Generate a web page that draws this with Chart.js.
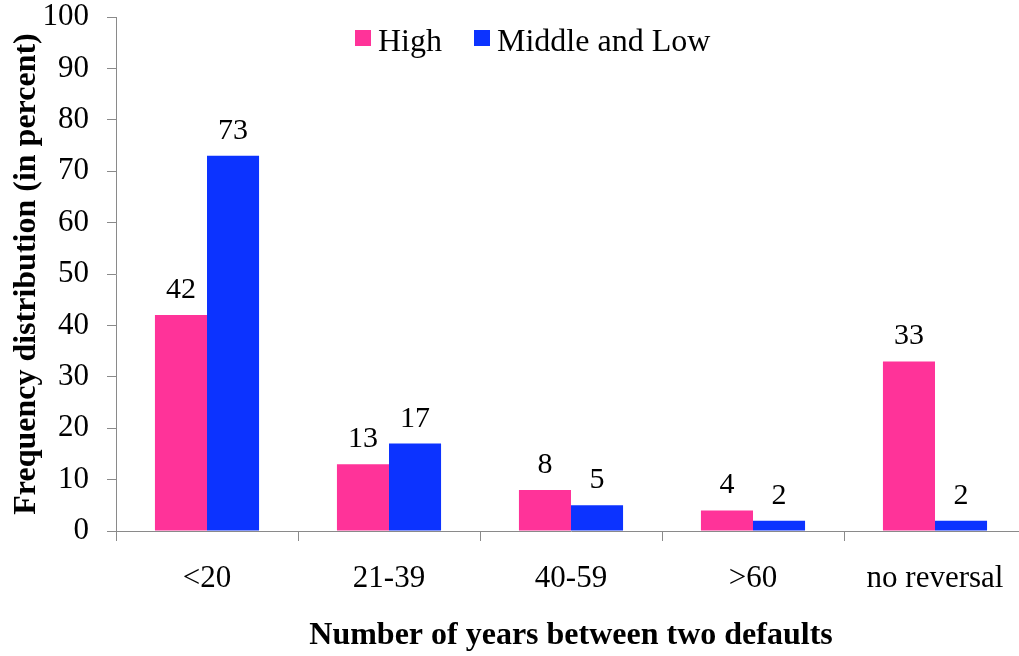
<!DOCTYPE html>
<html>
<head>
<meta charset="utf-8">
<script src="https://cdn.jsdelivr.net/npm/chart.js@4"></script>
<style>
  html, body { margin: 0; padding: 0; background: #fff; overflow: hidden; }
  #wrap { width: 1019px; height: 656px; overflow: hidden; position: relative; }
  canvas { display: block; }
</style>
</head>
<body>
<div id="wrap"><canvas id="c" width="1026" height="656" style="width:1026px;height:656px"></canvas></div>
<script>
// Categories and values
const categories = ['<20', '21-39', '40-59', '>60', 'no reversal'];
const seriesNames = ['High', 'Middle and Low'];
const highValues = [42, 13, 8, 4, 33];
const middleLowValues = [73, 17, 5, 2, 2];
const yMin = 0;
const yMax = 100;
const yStep = 10;
const xTitle = 'Number of years between two defaults';
const yTitle = 'Frequency distribution (in percent)';

const SERIF = "'Liberation Serif', 'Times New Roman', Times, serif";
const AXIS_GREY = '#8a8a8a';
const COLORS = ['#ff3399', '#0c33ff'];

// Value labels drawn above each bar
const valueLabels = {
  id: 'valueLabels',
  afterDatasetsDraw(chart) {
    const ctx = chart.ctx;
    ctx.save();
    ctx.font = '30px ' + SERIF;
    ctx.fillStyle = '#000';
    ctx.textAlign = 'center';
    ctx.textBaseline = 'alphabetic';
    chart.data.datasets.forEach((ds, i) => {
      const meta = chart.getDatasetMeta(i);
      meta.data.forEach((bar, j) => {
        ctx.fillText(String(ds.data[j]), bar.x, bar.y - 17);
      });
    });
    ctx.restore();
  }
};

// Legend placed inside the plot area, near the top
const innerLegend = {
  id: 'innerLegend',
  afterDraw(chart) {
    const ctx = chart.ctx;
    ctx.save();
    ctx.font = '32px ' + SERIF;
    ctx.textBaseline = 'alphabetic';
    ctx.textAlign = 'left';
    let x = 355;
    const boxTop = 30, box = 16, baseline = 51;
    chart.data.datasets.forEach((ds) => {
      ctx.fillStyle = ds.backgroundColor;
      ctx.fillRect(x, boxTop, box, box);
      ctx.fillStyle = '#000';
      const tx = x + box + 7;
      ctx.fillText(ds.label, tx, baseline);
      x = tx + ctx.measureText(ds.label).width + 32;
    });
    ctx.restore();
  }
};

new Chart(document.getElementById('c'), {
  type: 'bar',
  data: {
    labels: categories,
    datasets: [
      { label: seriesNames[0], data: highValues, backgroundColor: COLORS[0], borderWidth: 0 },
      { label: seriesNames[1], data: middleLowValues, backgroundColor: COLORS[1], borderWidth: 0 }
    ]
  },
  options: {
    responsive: false,
    animation: false,
    devicePixelRatio: 1,
    layout: { padding: { top: 17, right: 0, bottom: 0, left: 0 } },
    datasets: { bar: { categoryPercentage: 0.572, barPercentage: 1.0 } },
    plugins: {
      legend: { display: false },
      tooltip: { enabled: false },
      title: { display: false }
    },
    scales: {
      x: {
        grid: {
          display: true, offset: true, drawOnChartArea: false, drawTicks: true,
          tickLength: 10, color: AXIS_GREY, lineWidth: 1
        },
        border: { display: true, color: AXIS_GREY, width: 1 },
        ticks: {
          color: '#000', font: { family: SERIF, size: 31 }, padding: 19,
          maxRotation: 0, autoSkip: false
        },
        title: {
          display: true, text: xTitle, color: '#000',
          font: { family: SERIF, size: 32, weight: 'bold' },
          padding: { top: 0, bottom: 1 }
        },
        afterFit(scale) {
          scale.height = 125;
          scale.paddingLeft = 0;
          scale.paddingRight = 0;
        }
      },
      y: {
        min: yMin, max: yMax,
        grid: {
          display: true, drawOnChartArea: false, drawTicks: true,
          tickLength: 9, color: AXIS_GREY, lineWidth: 1
        },
        border: { display: true, color: AXIS_GREY, width: 1 },
        ticks: {
          stepSize: yStep, color: '#000', font: { family: SERIF, size: 31 }, padding: 18
        },
        title: {
          display: true, text: yTitle, color: '#000',
          font: { family: SERIF, size: 32, weight: 'bold' },
          padding: { top: 8, bottom: 0 }
        },
        afterFit(scale) {
          scale.width = 116;
          scale.paddingTop = 0;
          scale.paddingBottom = 0;
        }
      }
    }
  },
  plugins: [valueLabels, innerLegend]
});
</script>
</body>
</html>
